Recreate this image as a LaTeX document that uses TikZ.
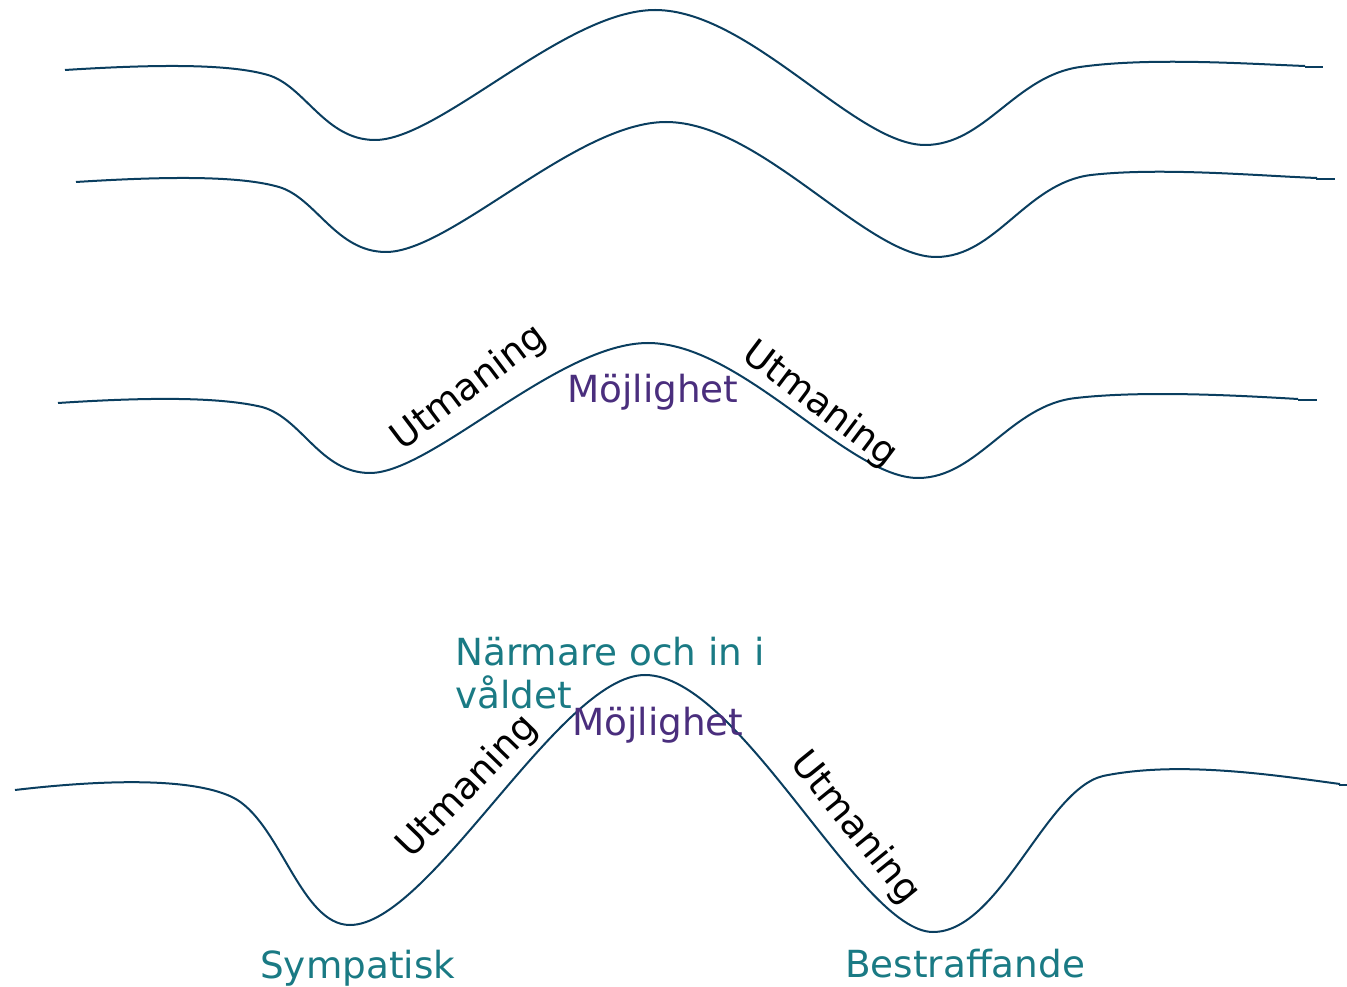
\documentclass[tikz,border=0pt]{standalone}
\usepackage{fontspec}
\setmainfont{DejaVu Sans}
\definecolor{wave}{RGB}{10,62,95}
\definecolor{teal}{RGB}{26,122,132}
\definecolor{purp}{RGB}{74,46,125}
\tikzset{
  wavel/.style={draw=wave, line width=1.5pt},
  tick/.style={draw=wave, line width=1.8pt},
  lbl/.style={font=\fontsize{28}{33}\selectfont, inner sep=0pt},
  utm/.style={lbl, text=black},
  moj/.style={lbl, text=purp, anchor=base west},
  tl/.style={lbl, text=teal, anchor=base west},
}
\begin{document}
\begin{tikzpicture}[x=0.75pt,y=-0.75pt]
\useasboundingbox (0,0) rectangle (1347,987);
% curve 1
\draw[wavel] (65,70) .. controls (160,64) and (230,64) .. (268,75)
  .. controls (305,86) and (325,140) .. (375,140)
  .. controls (440,140) and (565,10) .. (655,10)
  .. controls (750,10) and (855,145) .. (925,145)
  .. controls (985,145) and (1015,76) .. (1080,67)
  .. controls (1150,57) and (1250,64) .. (1305,66);
\coordinate (t1a) at (1305,67); \coordinate (t1b) at (1323,67);
\draw[tick] (t1a) -- (t1b);
% curve 2
\draw[wavel] (76,182) .. controls (171,176) and (241,176) .. (279,187)
  .. controls (316,198) and (336,252) .. (386,252)
  .. controls (451,252) and (576,122) .. (666,122)
  .. controls (761,122) and (866,257) .. (936,257)
  .. controls (996,257) and (1026,183) .. (1091,175)
  .. controls (1161,167) and (1261,176) .. (1317,178);
\coordinate (t2a) at (1316,179); \coordinate (t2b) at (1335,179);
\draw[tick] (t2a) -- (t2b);
% curve 3
\draw[wavel] (58,403) .. controls (150,397) and (220,397) .. (262,407)
  .. controls (302,418) and (320,473) .. (370,473)
  .. controls (432,473) and (558,343) .. (648,343)
  .. controls (742,343) and (848,478) .. (918,478)
  .. controls (978,478) and (1010,405) .. (1076,398)
  .. controls (1146,390) and (1246,396) .. (1298,399);
\coordinate (t3a) at (1298,400); \coordinate (t3b) at (1317,400);
\draw[tick] (t3a) -- (t3b);
% curve 4
\draw[wavel] (15,790) .. controls (100,780) and (190,777) .. (232,797)
  .. controls (280,820) and (300,925) .. (350,925)
  .. controls (430,925) and (560,675) .. (645,675)
  .. controls (740,675) and (860,932) .. (933,932)
  .. controls (1000,932) and (1045,790) .. (1103,776)
  .. controls (1180,760) and (1280,776) .. (1340,784);
\coordinate (t4a) at (1339,785); \coordinate (t4b) at (1347,785);
\draw[tick] (t4a) -- (t4b);
% labels
\node[utm, rotate=37] (u1) at (469,388) {Utmaning};
\node[utm, rotate=-37] (u2) at (820,405) {Utmaning};
\node[moj] (m1) at (567,403) {Möjlighet};
\node[tl] (n1) at (455,665) {Närmare och in i};
\node[tl] (n2) at (455,708) {våldet};
\node[moj] (m2) at (572,735) {Möjlighet};
\node[utm, rotate=46] (u3) at (468,787) {Utmaning};
\node[utm, rotate=-51] (u4) at (855,828) {Utmaning};
\node[tl] (s) at (260,978) {Sympatisk};
\node[tl] (b) at (845,977) {Bestraffande};
\end{tikzpicture}
\end{document}
